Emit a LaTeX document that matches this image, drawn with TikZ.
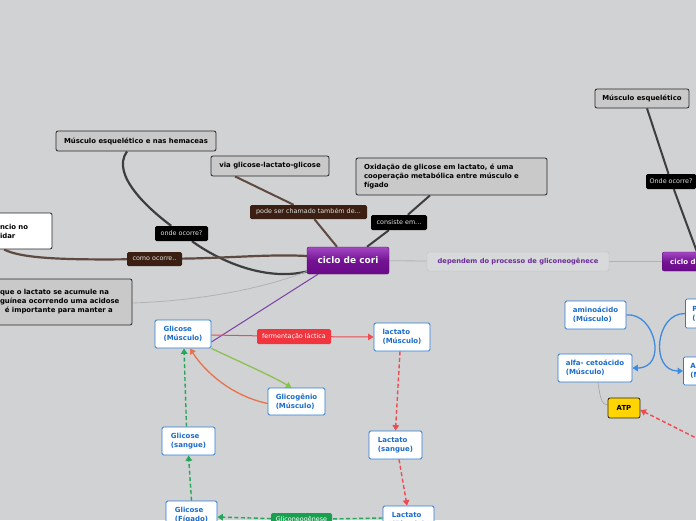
\documentclass[tikz,border=0pt]{standalone}
\usepackage{fontspec}
\setmainfont{DejaVu Sans}
\usetikzlibrary{arrows.meta,backgrounds}

\definecolor{bgcol}{HTML}{D1D2D4}
\definecolor{boxgray}{HTML}{C9C9CA}
\definecolor{darkln}{HTML}{3E3E3E}
\definecolor{brownln}{HTML}{5E4A40}
\definecolor{brownlab}{HTML}{3B1F12}
\definecolor{purpletop}{HTML}{A548C4}
\definecolor{purplebot}{HTML}{6A0A8A}
\definecolor{purpletxt}{HTML}{6B2C9A}
\definecolor{blueln}{HTML}{2B7BD6}
\definecolor{bluetxt}{HTML}{1A6CC8}
\definecolor{redln}{HTML}{EE4B52}
\definecolor{redlab}{HTML}{F2343F}
\definecolor{greenln}{HTML}{26A65B}
\definecolor{greenlab}{HTML}{16A14E}
\definecolor{lightgreen}{HTML}{8CC152}
\definecolor{orangeln}{HTML}{E8734A}
\definecolor{curveblue}{HTML}{3D8BE0}
\definecolor{atpyellow}{HTML}{FFD400}

\tikzset{
  topic/.style={draw=black!85, fill=boxgray, rounded corners=2pt, line width=0.8pt,
    font=\fontsize{6.9}{9}\selectfont\bfseries, inner sep=0pt},
  whitetopic/.style={topic, fill=white},
  linklab/.style={rounded corners=1.5pt, text=white!88!black, inner sep=0pt,
    font=\fontsize{6.4}{7.5}\selectfont},
  core/.style={draw=purplebot!80!black, rounded corners=2pt, top color=purpletop,
    bottom color=purplebot, middle color=purplebot!85!purpletop, text=white,
    font=\fontsize{9}{10}\selectfont\bfseries, inner sep=0pt},
  sub/.style={draw=black!25, fill=bgcol!85!white, rounded corners=2pt, text=purpletxt,
    font=\fontsize{6.7}{8}\selectfont\bfseries, inner sep=0pt},
  cell/.style={draw=blueln, fill=white, rounded corners=1.5pt, line width=0.8pt,
    text=bluetxt, align=left, font=\fontsize{7}{9}\selectfont\bfseries, inner sep=0pt},
  arrowtip/.style={-{Triangle[width=6.5pt,length=5.5pt]}},
  dashedlink/.style={dash pattern=on 4pt off 2.5pt},
}

\begin{document}
\begin{tikzpicture}[x=1pt,y=-1pt]
\useasboundingbox (0,0) rectangle (696,520);
\clip (0,0) rectangle (696,520);

% upper part
\node[topic, minimum width=160pt, minimum height=20pt] (mh) at (136,141) {Músculo esquelético e nas hemaceas};
\node[topic, minimum width=118pt, minimum height=20pt] (via) at (270,166) {via glicose-lactato-glicose};
\node[topic, minimum width=191pt, minimum height=37pt, text width=175pt, align=left] (ox) at (451.5,176.5)
  {Oxidação de glicose em lactato, é uma\\cooperação metabólica entre músculo e\\fígado};
\node[whitetopic, minimum width=72pt, minimum height=36pt, text width=32pt, align=left] (wb) at (16,231) {ncio no\\idar};
\node[topic, minimum width=140pt, minimum height=46pt, text width=124pt, align=left] (lg) at (62,302)
  {que o lactato se acumule na\\guínea ocorrendo uma acidose\\\hspace*{5pt}é importante para manter a};
\node[core, minimum width=82pt, minimum height=27pt] (cori) at (348,260.5) {ciclo de cori};
\node[sub, minimum width=182pt, minimum height=19pt] (dep) at (518,261.5) {dependem do processo de gliconeogênece};
\node[core, anchor=west, minimum height=19pt, inner xsep=8pt, font=\fontsize{7}{8}\selectfont\bfseries] (cori2) at (662,261.5) {ciclo de cori};
\node[topic, minimum width=94pt, minimum height=19pt] (me) at (642,98.5) {Músculo esquelético};

\node[linklab, fill=black, minimum width=50pt, minimum height=15pt] (onde2) at (671,181.5) {Onde ocorre?};
\node[linklab, fill=black, minimum width=53pt, minimum height=15pt] (onde) at (181.5,233.5) {onde ocorre?};
\node[linklab, fill=brownlab, minimum width=55pt, minimum height=14pt] (como) at (154.5,259) {como ocorre..};
\node[linklab, fill=brownlab, minimum width=117pt, minimum height=14pt] (pode) at (308.5,212) {pode ser chamado também de...};
\node[linklab, fill=black, minimum width=56pt, minimum height=15pt] (cons) at (399,222.5) {consiste em...};

% lower part
\node[cell, minimum width=56pt, minimum height=28pt] (glM) at (183,334) {Glicose\\(Músculo)};
\node[cell, minimum width=56pt, minimum height=28pt] (lacM) at (402,337) {lactato\\(Músculo)};
\node[cell, minimum width=57pt, minimum height=27pt] (gli) at (296.5,401.5) {Glicogênio\\(Músculo)};
\node[cell, minimum width=53pt, minimum height=28pt] (glS) at (188.5,441) {Glicose\\(sangue)};
\node[cell, minimum width=53pt, minimum height=28pt] (lacS) at (395.5,445) {Lactato\\(sangue)};
\node[cell, minimum width=51pt, minimum height=28pt] (glF) at (191.5,515) {Glicose\\(Fígado)};
\node[cell, minimum width=51pt, minimum height=28pt] (lacF) at (408.5,520) {Lactato\\(Fígado)};
\node[cell, minimum width=61pt, minimum height=28pt] (aa) at (595.5,315) {aminoácido\\(Músculo)};
\node[cell, minimum width=74pt, minimum height=28pt] (ac) at (595,368) {alfa- cetoácido\\(Músculo)};
\node[cell, anchor=west, minimum height=29pt, inner xsep=7pt] (pir) at (685,313.5) {Piruvato\\(Músculo)};
\node[cell, anchor=west, minimum height=28pt, inner xsep=7pt] (ala) at (683,371) {Alanina\\(Músculo)};
\node[topic, fill=atpyellow, minimum width=32pt, minimum height=20pt] (atp) at (624,408) {ATP};

\node[linklab, fill=redlab, text=white, minimum width=74pt, minimum height=15pt] (ferm) at (294,336.5) {fermentação láctica};
\node[linklab, fill=greenlab, text=white, minimum width=61pt, minimum height=13pt] (gneo) at (301.5,519.5) {Gliconeogênese};
\coordinate (offr) at (712,446);

\begin{scope}[on background layer]
  \fill[bgcol] (0,0) rectangle (696,520);
  \draw[darkln, line width=2.2pt] ([xshift=-9pt]mh.south) .. controls (110,175) and (150,210) .. (onde)
    .. controls (215,258) and (262,282) .. ([yshift=-11pt]cori.west);
  \draw[brownln, line width=2.2pt] ([xshift=-12pt]wb.south) .. controls (20,258) and (60,260) .. (como)
    .. controls (230,258) and (270,254) .. ([yshift=4.5pt]cori.west);
  \draw[brownln, line width=2pt] ([xshift=-35pt]via.south) -- (pode) -- ([xshift=-11pt]cori.north);
  \draw[darkln, line width=2pt] ([xshift=-21.5pt]ox.south) -- (cons) -- ([xshift=19pt]cori.north);
  \draw[black!30, line width=0.8pt] (lg.east |- 0,303) .. controls (220,300) and (280,282) .. ([yshift=-11pt]cori.west);
  \draw[black!30, line width=0.8pt] (cori) -- (dep) -- (cori2);
  \draw[darkln, line width=2pt] ([xshift=5pt]me.south) -- (onde2) -- (697,252);
  \draw[purpletxt!90, line width=1pt] ([xshift=-30pt]cori.south) -- ([yshift=-8pt]glM.east);

  \draw[redln, line width=1pt, arrowtip] ([yshift=-1pt]glM.east) -- (ferm) -- (lacM.west);
  \draw[redln, line width=1.4pt, dashedlink, arrowtip] ([xshift=-2pt]lacM.south) -- (lacS.north);
  \draw[redln, line width=1.4pt, dashedlink, arrowtip] ([xshift=3.5pt]lacS.south) -- ([xshift=-1.5pt]lacF.north);
  \draw[greenln, line width=1.4pt, dashedlink, arrowtip] ([yshift=2pt]lacF.west) -- (gneo) -- ([yshift=-2pt]glF.east);
  \draw[greenln, line width=1.4pt, dashedlink, arrowtip] (glF.north) -- (glS.south);
  \draw[greenln, line width=1.4pt, dashedlink, arrowtip] ([xshift=-2pt]glS.north) -- ([xshift=1pt]glM.south);
  \draw[lightgreen, line width=1.3pt, arrowtip] (glM.south east) .. controls (240,362) and (270,375) .. ([xshift=-5pt]gli.north);
  \draw[orangeln, line width=1.3pt, arrowtip] ([yshift=-2pt]gli.west) .. controls (232,396) and (205,372) .. ([xshift=7pt]glM.south);
  \draw[curveblue, line width=1.3pt, arrowtip] (aa.east) .. controls (655,312) and (668,368) .. (ac.east);
  \draw[curveblue, line width=1.3pt, arrowtip] (pir.west) .. controls (655,313) and (650,371) .. (ala.west);
  \draw[black!35, line width=0.7pt] ([xshift=3pt]ac.south) .. controls (600,398) and (602,405) .. ([yshift=3pt]atp.west);
  \draw[redln, line width=1.4pt, dashedlink, arrowtip] (offr) -- ([yshift=-2pt]atp.east);
\end{scope}
\end{tikzpicture}
\end{document}
